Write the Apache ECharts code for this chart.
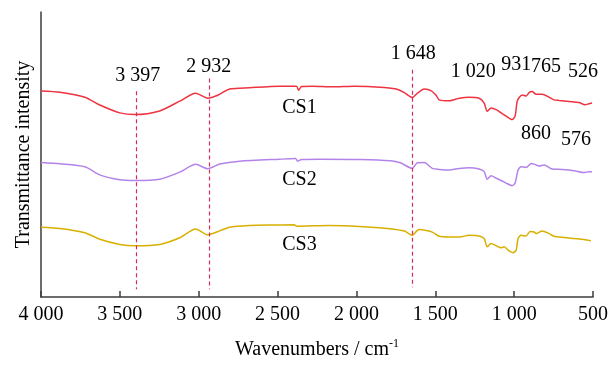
<!DOCTYPE html>
<html>
<head>
<meta charset="utf-8">
<script src="https://cdn.jsdelivr.net/npm/echarts@6/dist/echarts.min.js"></script>
<style>
  html, body { margin: 0; padding: 0; background: #fff; }
  #chart { width: 611px; height: 365px; }
</style>
</head>
<body>
<div id="chart"></div>
<script>
// FTIR spectra, [wavenumber, intensity (a.u.)]
var cs1 = [
  [4000, 210.3], [3880, 209], [3722, 204], [3627, 196], [3500, 188], [3405, 186.3],
  [3247, 190], [3120, 200], [3019, 208], [2943, 203], [2880, 206], [2804, 212.3],
  [2677, 213.7], [2487, 215.3], [2380, 215.3], [2367, 211], [2348, 215], [2279, 215.3],
  [2152, 214.7], [2013, 215.3], [1823, 214], [1747, 212.3], [1696, 208.7], [1646, 203.7],
  [1614, 208], [1570, 212.3], [1525, 210.5], [1494, 205.7], [1475, 201.3], [1411, 200.3],
  [1348, 203], [1285, 204], [1222, 203], [1190, 198], [1171, 189.7], [1146, 193],
  [1114, 191.3], [1082, 188], [1051, 184.7], [1013, 181.3], [994, 184.7], [981, 199.7],
  [968, 203.7], [949, 206.3], [924, 205.3], [905, 208.7], [886, 209.7], [861, 207],
  [823, 207], [778, 204], [747, 201.3], [715, 200.7], [652, 199.7], [589, 198.7],
  [551, 196.3], [526, 197.3], [506, 198]
];
var cs2 = [
  [4000, 137.3], [3880, 136], [3722, 133], [3627, 124.7], [3500, 119.7], [3405, 119],
  [3247, 120.3], [3120, 127.5], [3019, 135.5], [2943, 131], [2867, 135.7], [2740, 138.7],
  [2487, 140.7], [2386, 141.3], [2373, 138.7], [2348, 140.3], [2234, 140.7], [1975, 140.3],
  [1785, 139], [1722, 137], [1646, 131.3], [1614, 137], [1570, 137.3], [1519, 131.3],
  [1475, 130.3], [1411, 129.7], [1348, 131.3], [1285, 132], [1222, 130.7], [1190, 128],
  [1171, 120.3], [1146, 123.7], [1114, 121.3], [1082, 119], [1051, 116.3], [1013, 113.7],
  [994, 116.3], [975, 129.7], [956, 133], [924, 132.3], [892, 136.3], [873, 135.7],
  [842, 133.7], [810, 134.7], [759, 130.7], [696, 130.3], [620, 129], [557, 127],
  [526, 128], [506, 128]
];
var cs3 = [
  [4000, 71.3], [3880, 70], [3722, 65.7], [3627, 59], [3500, 53.7], [3405, 52.3],
  [3247, 53.7], [3120, 60.5], [3019, 69.5], [2943, 63.5], [2867, 67.5], [2804, 71.3],
  [2677, 73], [2550, 73.5], [2393, 73.7], [2380, 72.3], [2171, 73], [1981, 72],
  [1791, 69.7], [1696, 67.3], [1646, 63], [1614, 68], [1601, 69], [1557, 68],
  [1519, 66.3], [1475, 62], [1411, 61.3], [1348, 61.3], [1285, 63], [1222, 62.3],
  [1190, 59.7], [1171, 51.3], [1146, 54.7], [1114, 52.3], [1082, 50.3], [1063, 51.3],
  [1032, 47], [1006, 45.3], [987, 48], [975, 59.7], [956, 63], [924, 62.3],
  [899, 67], [873, 66.3], [861, 64.7], [823, 67.3], [778, 64.7], [747, 62],
  [683, 60.7], [620, 59.7], [557, 58.7], [513, 57.3]
];

// marked bands: wavenumber, top and bottom of the guide line
var guideX = [3397, 2932, 1648];
var guideTop = [210, 223, 232];
var guideBottom = [8, 8, 10];

// peak annotations
var peakText = ['3 397', '2 932', '1 648', '1 020', '931', '765', '526', '860', '576'];
var peakX = [3386, 2937, 1639, 1260, 987, 798, 563, 861, 608];
var peakY = [226, 235, 248, 230, 237, 235, 230, 167, 161];

// sample names
var sampleNames = ['CS1', 'CS2', 'CS3'];
var sampleX = [2361, 2361, 2361];
var sampleY = [193, 120, 53];

var FONT = '"Liberation Serif", "Times New Roman", serif';

function fmtWave(v) {
  if (v >= 1000) {
    return Math.floor(v / 1000) + ' ' + String(v % 1000).padStart(3, '0');
  }
  return String(v);
}

function textSeries(name, texts, xs, ys) {
  return {
    name: name,
    type: 'scatter',
    symbolSize: 0,
    itemStyle: { opacity: 1 },
    data: texts.map(function (t, i) { return { value: [xs[i], ys[i]], name: t }; }),
    label: {
      show: true,
      position: 'inside',
      formatter: '{b}',
      fontFamily: FONT,
      fontSize: 20,
      color: '#000',
      opacity: 1
    }
  };
}

var chart = echarts.init(document.getElementById('chart'));

var guideLines = guideX.map(function (x, i) {
  return [{ coord: [x, guideTop[i]] }, { coord: [x, guideBottom[i]] }];
});

var option = {
  animation: false,
  grid: { left: 41, right: 17, top: 12, bottom: 62 },
  xAxis: {
    type: 'value',
    min: 500,
    max: 4000,
    interval: 500,
    inverse: true,
    name: '{a|Wavenumbers / cm}{b|-1}',
    nameLocation: 'middle',
    nameGap: 41,
    nameTextStyle: {
      rich: {
        a: { fontFamily: FONT, fontSize: 20, color: '#000', lineHeight: 24 },
        b: { fontFamily: FONT, fontSize: 12, color: '#000', verticalAlign: 'top', lineHeight: 24, padding: [0, 0, 10, 0] }
      }
    },
    axisLine: { lineStyle: { color: '#3c3c3c', width: 1.5 } },
    axisTick: { inside: true, length: 6, lineStyle: { color: '#3c3c3c', width: 1.5 } },
    axisLabel: {
      fontFamily: FONT,
      fontSize: 20,
      color: '#000',
      margin: 8,
      formatter: fmtWave
    },
    splitLine: { show: false }
  },
  yAxis: {
    type: 'value',
    min: 0,
    max: 291,
    name: 'Transmittance intensity',
    nameLocation: 'middle',
    nameRotate: 90,
    nameGap: 7,
    nameTextStyle: { fontFamily: FONT, fontSize: 20, color: '#000' },
    axisLine: { show: true, lineStyle: { color: '#3c3c3c', width: 1.5 } },
    axisTick: { show: false },
    axisLabel: { show: false },
    splitLine: { show: false }
  },
  series: [
    {
      name: 'CS1',
      type: 'line',
      data: cs1,
      symbol: 'none',
      smooth: 0.25,
      lineStyle: { color: '#ee3340', width: 1.5 },
      markLine: {
        silent: true,
        symbol: 'none',
        label: { show: false },
        lineStyle: { color: '#d62c5c', type: [4, 3], width: 1.2 },
        data: guideLines
      }
    },
    {
      name: 'CS2',
      type: 'line',
      data: cs2,
      symbol: 'none',
      smooth: 0.25,
      lineStyle: { color: '#b383ea', width: 1.5 }
    },
    {
      name: 'CS3',
      type: 'line',
      data: cs3,
      symbol: 'none',
      smooth: 0.25,
      lineStyle: { color: '#d8b000', width: 1.5 }
    },
    textSeries('peaks', peakText, peakX, peakY),
    textSeries('samples', sampleNames, sampleX, sampleY)
  ]
};

chart.setOption(option);
window.addEventListener('resize', function () {
  chart.resize();
});
</script>
</body>
</html>
